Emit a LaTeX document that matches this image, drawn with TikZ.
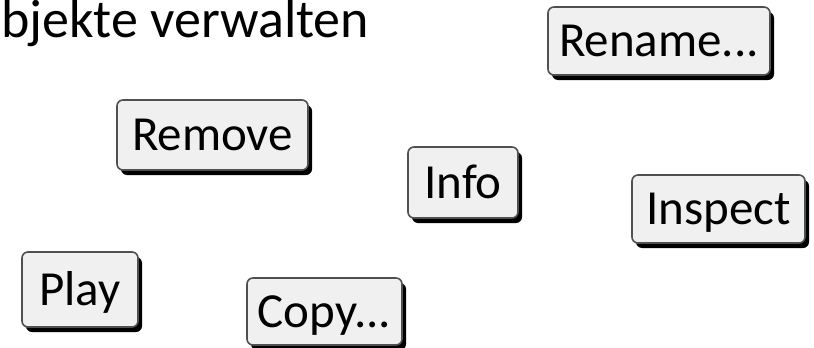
\documentclass[tikz,border=0pt]{standalone}
\usepackage{fontspec}
\setmainfont{Carlito}
\usetikzlibrary{shadows}
\definecolor{btnfill}{HTML}{F0F0F0}
\definecolor{btnline}{HTML}{505050}
\tikzset{
  btn/.style={draw=btnline, line width=1.6pt, fill=btnfill, rounded corners=6pt,
    inner sep=0pt, font=\fontsize{49}{49}\selectfont, text height=31pt, text depth=0pt,
    drop shadow={shadow xshift=4pt, shadow yshift=-5pt, fill=black, opacity=1}},
}
\begin{document}
\begin{tikzpicture}[x=1pt,y=-1pt]
\useasboundingbox (0,0) rectangle (814,348);
\node[anchor=base west, inner sep=0pt, font=\fontsize{54}{54}\selectfont] (title) at (1,37) {bjekte verwalten};
\node[btn, minimum width=222pt, minimum height=68pt] (rename) at (659,41) {Rename...};
\node[btn, minimum width=191pt, minimum height=70pt] (remove) at (212.5,135) {Remove};
\node[btn, minimum width=110pt, minimum height=71pt] (info) at (463,182.5) {Info};
\node[btn, minimum width=173pt, minimum height=68pt] (inspect) at (718.5,209) {Inspect};
\node[btn, minimum width=116pt, minimum height=75pt] (play) at (80,289.5) {Play};
\node[btn, minimum width=155pt, minimum height=67pt] (copy) at (324.5,311.5) {Copy...};
\end{tikzpicture}
\end{document}
